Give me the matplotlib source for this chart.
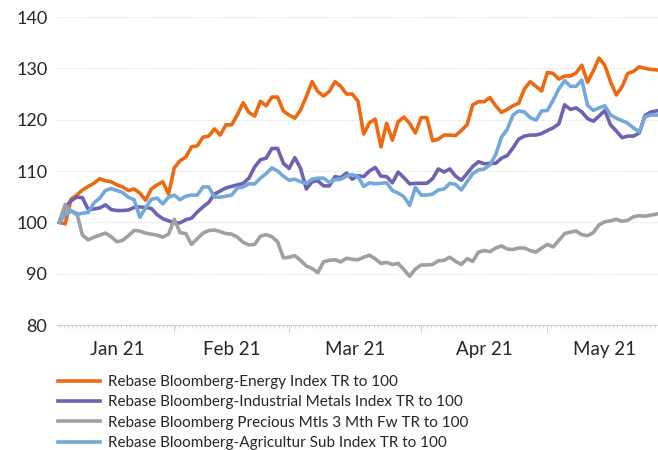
import numpy as np
import pandas as pd
import matplotlib
matplotlib.use('Agg')
import matplotlib.pyplot as plt
import matplotlib.transforms as mtransforms
from matplotlib.ticker import MultipleLocator

plt.rcParams['font.family'] = ['Lato', 'DejaVu Sans']

# business days, Jan 4 - May 28 2021
dates = pd.bdate_range('2021-01-04', '2021-05-28')

energy = [100, 99.7, 104.5, 105.3, 106.3, 107, 107.6, 108.5, 108.1, 107.9,
          107.3, 106.9, 106.2, 106.5, 105.7, 104.3, 106.5, 107.3, 107.9, 105.5,
          110.6, 112, 112.7, 114.7, 114.9, 116.6, 116.8, 118.2, 117, 119,
          119, 121, 123.3, 121.4, 120.7, 123.6, 122.7, 124.4, 124.4, 121.7,
          120.9, 120.3, 121.9, 124.5, 127.4, 125.5, 124.6, 125.5, 127.4, 126.5,
          125, 125, 123.6, 117.2, 119.4, 120.1, 114.7, 119.3, 116, 119.6,
          120.5, 119.3, 117.4, 120.4, 120.4, 115.9, 116.2, 117, 117, 116.9,
          117.9, 119, 122.9, 123.5, 123.5, 124.3, 122.7, 121.4, 122, 122.7,
          123.2, 126, 127.4, 126.5, 125.6, 129.2, 129, 127.9, 128.5, 128.5,
          129.1, 130.6, 127.3, 129.5, 132, 130.6, 127.4, 124.8, 126.4, 129,
          129.4, 130.3, 130, 129.8, 129.7]

metals = [100, 103, 104.2, 104.9, 104.8, 102.5, 102.6, 102.8, 103.4, 102.5,
          102.3, 102.3, 102.4, 102.9, 103, 102.9, 102.7, 101.5, 100.7, 100.3,
          99.9, 99.9, 100.5, 100.8, 102, 103, 103.9, 105.5, 106.1, 106.7,
          107, 107.3, 107.6, 108.6, 110.8, 112.2, 112.5, 114.4, 114.4, 111.5,
          110.5, 112.6, 110.5, 106.5, 107.9, 108.1, 107.1, 107.1, 108.9, 108.7,
          109.6, 108.4, 109.1, 108.9, 110, 110.7, 109, 108.9, 107.7, 109.8,
          108.7, 107.5, 107.6, 107.6, 107.6, 108.5, 110.4, 109.8, 110.4, 109,
          108.2, 109.5, 110.9, 111.8, 111.4, 111.5, 111.5, 112.5, 113, 114.5,
          116.2, 116.8, 117, 117, 117.3, 117.9, 118.4, 119.2, 122.9, 122,
          122.3, 121.5, 120.2, 119.7, 120.7, 121.8, 119, 117.8, 116.5, 116.8,
          116.8, 117.4, 120.8, 121.5, 121.7]

precious = [100.3, 103.5, 102.2, 101.8, 97.5, 96.6, 97.1, 97.5, 97.9, 97.2,
            96.2, 96.5, 97.4, 98.4, 98.3, 97.9, 97.7, 97.5, 97.1, 97.7,
            100.6, 98, 97.8, 95.7, 96.8, 97.9, 98.4, 98.5, 98.2, 97.8,
            97.7, 97.1, 96.1, 95.6, 95.7, 97.3, 97.6, 97.2, 96.2, 93.1,
            93.2, 93.5, 92.6, 91.5, 91, 90.2, 92.3, 92.6, 92.7, 92.3,
            93, 92.8, 92.7, 93.2, 93.6, 92.9, 92, 92.2, 91.8, 92,
            90.8, 89.5, 90.9, 91.7, 91.7, 91.8, 92.5, 92.6, 93.2, 92.4,
            91.8, 92.9, 92.4, 94.2, 94.5, 94.3, 95, 95.4, 94.8, 94.7,
            95, 95, 94.5, 94.2, 95, 95.7, 95.2, 96.5, 97.8, 98.1,
            98.3, 97.6, 97.4, 98, 99.5, 100.1, 100.3, 100.6, 100.2, 100.4,
            101.1, 101.3, 101.2, 101.4, 101.6]

agri = [100, 101.5, 102.2, 101.5, 101.8, 101.9, 103.8, 104.7, 106.2, 106.6,
        106.2, 105.8, 104.9, 104.4, 101, 102.8, 104.5, 104.7, 103.6, 104.9,
        105.3, 104.4, 105.1, 105.3, 105.3, 106.9, 106.9, 104.9, 104.9, 105.1,
        105.3, 106.7, 106.9, 107.5, 107.5, 108.6, 109.5, 110.6, 110, 109,
        108.2, 108.4, 107.9, 107.6, 108.4, 108.6, 108.6, 107.8, 108.3, 108.4,
        109, 109.3, 108.9, 107, 107.7, 107.5, 107.6, 107.7, 106.2, 105.7,
        105, 103.3, 106.8, 105.3, 105.3, 105.5, 106.3, 106.5, 107.6, 107.4,
        106.3, 107.9, 109.5, 110.2, 110.4, 111.2, 113.2, 116.6, 118.1, 120.9,
        121.7, 121.5, 120.4, 119.9, 121.7, 121.8, 123.8, 126, 127.6, 126.5,
        126.5, 127.7, 122.8, 121.8, 122.3, 122.7, 120.9, 120.3, 119.8, 119.3,
        118.4, 117.6, 120.5, 120.9, 120.9]

labels = ['Rebase Bloomberg-Energy Index TR to 100',
          'Rebase Bloomberg-Industrial Metals Index TR to 100',
          'Rebase Bloomberg Precious Mtls 3 Mth Fw TR to 100',
          'Rebase Bloomberg-Agricultur Sub Index TR to 100']
colors = ['#ec6a12', '#6e63b2', '#a0a0a0', '#72a8da']

W, H = 658, 450
fig = plt.figure(figsize=(W / 100, H / 100), dpi=100)
ax = fig.add_axes([57 / W, 125 / H, 1 - 57 / W, 308 / H])

x = np.arange(len(dates))
for vals, c, lab in zip([energy, metals, precious, agri], colors, labels):
    ax.plot(x, vals, color=c, lw=2.6, label=lab)

step = 5.74  # px per business day
ax.set_xlim(-2.5 / step, (W - 59.5) / step)
ax.set_ylim(80, 140)
ax.set_yticks(range(80, 141, 10))
ax.yaxis.grid(True, color='#d9d9d9', ls=(0, (1, 1.5)), lw=0.8)
ax.set_axisbelow(True)
for s in ['top', 'right', 'left']:
    ax.spines[s].set_visible(False)
ax.spines['bottom'].set_color('#d0d0d0')
ax.tick_params(axis='y', length=0, pad=7, labelsize=13, labelcolor='#262626')

months = dates.to_period('M')
starts = [i for i in range(1, len(dates)) if months[i] != months[i - 1]]
ax.set_xticks(starts)
ax.set_xticklabels([])
ax.xaxis.set_minor_locator(MultipleLocator(0.72))
ax.tick_params(axis='x', which='major', length=5, color='#d0d0d0')
ax.tick_params(axis='x', which='minor', length=2.5, color='#d0d0d0')

trans = mtransforms.blended_transform_factory(ax.transData, ax.transAxes)
for m in months.unique():
    idx = np.where(months == m)[0]
    ax.text((idx[0] + idx[-1]) / 2 + 0.5, -16 / 308, m.strftime('%b %y'),
            transform=trans, ha='center', va='top', fontsize=13.5, color='#262626')

fig.legend(loc='upper left', bbox_to_anchor=(58 / W, 1 - 375 / H), frameon=False,
           fontsize=11, handlelength=2.75, handletextpad=0.5, labelspacing=0.42,
           borderpad=0, borderaxespad=0, labelcolor='#262626')

fig.savefig('out.png', dpi=100)
